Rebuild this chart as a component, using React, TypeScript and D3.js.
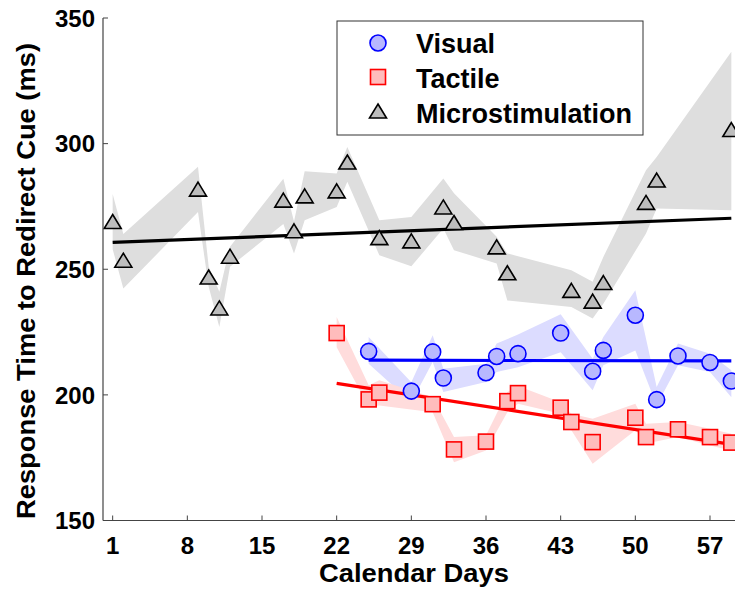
import * as d3 from "d3";

// Microstimulation (triangles)
const microDays = [1, 2, 9, 10, 11, 12, 17, 18, 19, 22, 23, 26, 29, 32, 33, 37, 38, 44, 46, 47, 51, 52, 59];
const microMean = [269, 253.6, 281.9, 246.9, 234.6, 255.2, 277.5, 265.3, 279.2, 281.2, 292.7, 262.6, 261.3, 274.8, 268.6, 258.9, 248.6, 241.6, 237.3, 244.7, 276.6, 285.5, 305.6];
const microUpper = [280, 264, 290.8, 251, 241, 259, 286, 269, 289, 288.1, 298.7, 269.5, 270.8, 286.1, 280.2, 262.9, 256.3, 249.6, 245, 254.9, 289.4, 294.7, 336.6];
const microLower = [258, 242.3, 272.8, 243, 227, 251, 268, 256.3, 269.5, 274.8, 284.8, 255.6, 251.2, 266.2, 257.6, 252.3, 237.6, 235, 230.4, 236.3, 264.2, 274.2, 273.5];
const microFit = [260.7, 270.3];

// Visual (circles)
const visDays = [25, 29, 31, 32, 36, 37, 39, 43, 46, 47, 50, 52, 54, 57, 59];
const visMean = [217.3, 201.5, 217.1, 206.7, 208.8, 215.3, 216.4, 224.6, 209.4, 217.7, 231.7, 198.1, 215.5, 212.9, 205.5];
const visUpper = [223, 205, 223.7, 210.4, 212.4, 220.4, 224, 232.1, 214.4, 223, 241.6, 203.1, 220.4, 216.4, 209.8];
const visLower = [212.4, 197.1, 213.1, 201.1, 205.1, 209.1, 211, 217, 201.8, 211.8, 217.7, 195.8, 211.8, 209.1, 199.1];
const visFit = [213.8, 213.5];

// Tactile (squares)
const tacDays = [22, 25, 26, 31, 33, 36, 38, 39, 43, 44, 46, 50, 51, 54, 57, 59];
const tacMean = [224.6, 198.2, 200.9, 196.3, 178.3, 181.4, 197.5, 200.7, 194.9, 189.2, 181.2, 190.9, 183.2, 186.3, 183.2, 181];
const tacUpper = [231, 203.8, 205.8, 199.1, 183.2, 183.9, 201.1, 203.5, 197.1, 192.5, 190.5, 196.5, 188.5, 189.2, 186.5, 184.5];
const tacLower = [219, 195.4, 195.8, 193.1, 173.2, 177.9, 193.1, 196.5, 192.5, 185.9, 172.6, 185.9, 180.6, 183.2, 179.9, 177.9];
const tacFit = [204.6, 180.3];

const xTicks = [1, 8, 15, 22, 29, 36, 43, 50, 57];
const yTicks = [150, 200, 250, 300, 350];

const FONT = "'Liberation Sans', Arial, sans-serif";

const x = d3.scaleLinear().domain([0, 60]).range([102, 742]);
const y = d3.scaleLinear().domain([150, 350]).range([520.5, 18]);

type Series = {
  days: number[];
  mean: number[];
  upper: number[];
  lower: number[];
  fit: number[];
  band: string;
  line: string;
};

const series: Series[] = [
  { days: microDays, mean: microMean, upper: microUpper, lower: microLower, fit: microFit, band: "#dedede", line: "#000000" },
  { days: visDays, mean: visMean, upper: visUpper, lower: visLower, fit: visFit, band: "#dcdcff", line: "#0000ff" },
  { days: tacDays, mean: tacMean, upper: tacUpper, lower: tacLower, fit: tacFit, band: "#ffdcdc", line: "#ff0000" },
];

const tri = "M0,-7L8.5,7L-8.5,7Z";

function Triangle({ cx, cy }: { cx: number; cy: number }) {
  return <path d={tri} transform={`translate(${cx},${cy})`} fill="#bdbdbd" stroke="#000" strokeWidth={1.6} />;
}
function Circle({ cx, cy }: { cx: number; cy: number }) {
  return <circle cx={cx} cy={cy} r={8} fill="#b8b8ff" stroke="#0000ff" strokeWidth={1.6} />;
}
function Square({ cx, cy }: { cx: number; cy: number }) {
  return <rect x={cx - 7.5} y={cy - 7.5} width={15} height={15} fill="#ffbcbc" stroke="#ff0000" strokeWidth={1.6} />;
}

export default function App() {
  const bandPath = (s: Series) =>
    d3
      .area<number>()
      .x((d) => x(d))
      .y0((_, i) => y(s.lower[i]))
      .y1((_, i) => y(s.upper[i]))(s.days) ?? "";

  const fitPath = (s: Series) =>
    d3
      .line<number>()
      .x((d) => x(d))
      .y((_, i) => y(s.fit[i]))([s.days[0], s.days[s.days.length - 1]]) ?? "";

  const [x0] = x.range();
  const yBottom = y(150);

  return (
    <svg
      width={735}
      height={595}
      style={{ position: "absolute", left: 0, top: 0, background: "#fff" }}
      fontFamily={FONT}
    >
      {series.map((s, i) => (
        <path key={"band" + i} d={bandPath(s)} fill={s.band} stroke="none" />
      ))}
      {series.map((s, i) => (
        <path key={"fit" + i} d={fitPath(s)} fill="none" stroke={s.line} strokeWidth={3.2} />
      ))}
      {microDays.map((d, i) => (
        <Triangle key={"m" + i} cx={x(d)} cy={y(microMean[i])} />
      ))}
      {visDays.map((d, i) => (
        <Circle key={"v" + i} cx={x(d)} cy={y(visMean[i])} />
      ))}
      {tacDays.map((d, i) => (
        <Square key={"t" + i} cx={x(d)} cy={y(tacMean[i])} />
      ))}

      {/* axes */}
      <line x1={x0 + 1} x2={735} y1={yBottom} y2={yBottom} stroke="#444" strokeWidth={1.2} />
      <line x1={x0 + 1} x2={x0 + 1} y1={y(350)} y2={yBottom} stroke="#444" strokeWidth={1.2} />
      {xTicks.map((t) => (
        <g key={"xt" + t}>
          <line x1={x(t)} x2={x(t)} y1={yBottom} y2={yBottom - 5} stroke="#444" strokeWidth={1} />
          <text x={x(t)} y={yBottom + 33} textAnchor="middle" fontSize={24} fontWeight="bold">
            {t}
          </text>
        </g>
      ))}
      {yTicks.map((t) => (
        <g key={"yt" + t}>
          <line x1={x0 + 1} x2={x0 + 6} y1={y(t)} y2={y(t)} stroke="#444" strokeWidth={1} />
          <text x={x0 - 7} y={y(t)} dy="0.36em" textAnchor="end" fontSize={24} fontWeight="bold">
            {t}
          </text>
        </g>
      ))}
      <text x={414} y={582} textAnchor="middle" fontSize={26} fontWeight="bold" textLength={190} lengthAdjust="spacingAndGlyphs">
        Calendar Days
      </text>
      <text
        transform="translate(35,281) rotate(-90)"
        textAnchor="middle"
        fontSize={26}
        fontWeight="bold"
        textLength={476}
        lengthAdjust="spacingAndGlyphs"
      >
        Response Time to Redirect Cue (ms)
      </text>

      {/* legend */}
      <rect x={337} y={21} width={306} height={114} fill="#fff" stroke="#333" strokeWidth={1} />
      <Circle cx={378} cy={43} />
      <Square cx={378} cy={77} />
      <Triangle cx={378} cy={111} />
      <text x={416} y={53} fontSize={27} fontWeight="bold">Visual</text>
      <text x={416} y={88} fontSize={27} fontWeight="bold">Tactile</text>
      <text x={416} y={123} fontSize={27} fontWeight="bold">Microstimulation</text>
    </svg>
  );
}
